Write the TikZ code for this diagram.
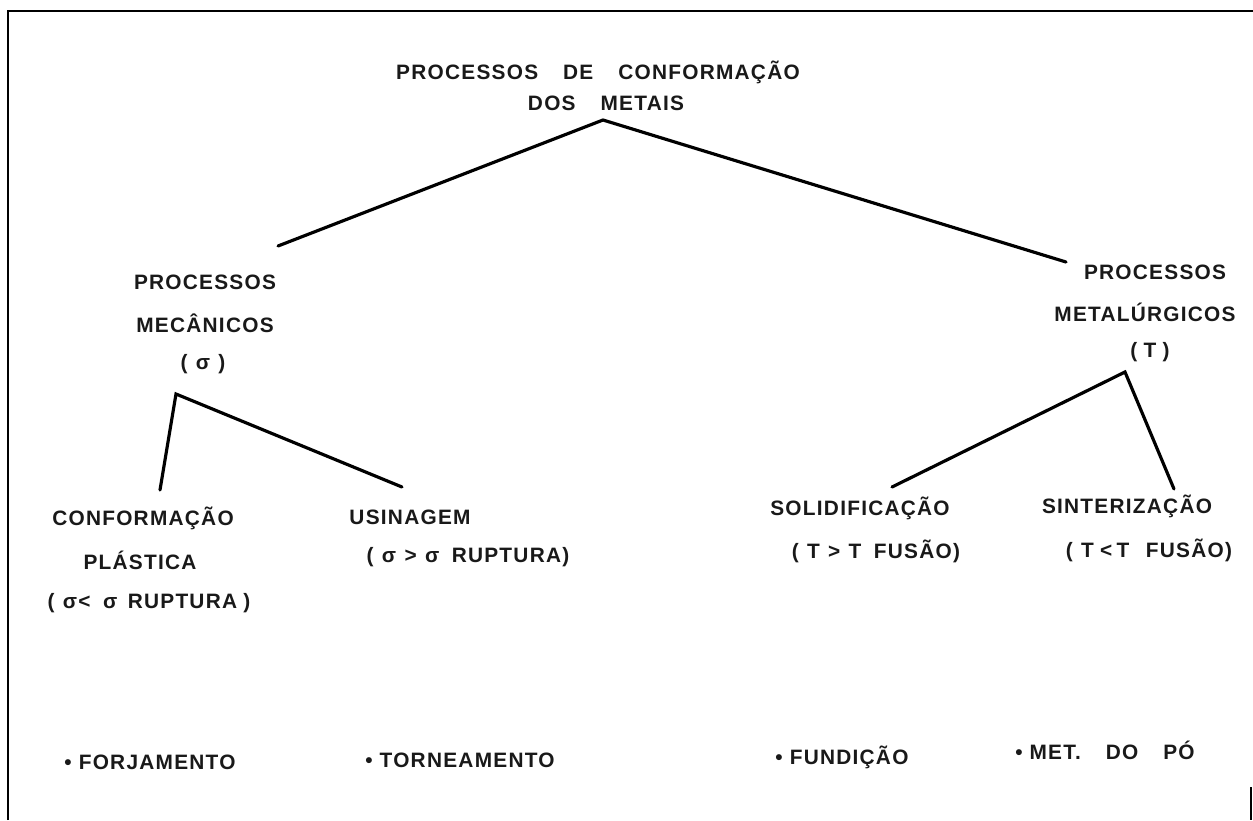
\documentclass[tikz,border=0pt]{standalone}
\usepackage{fontspec}
\newfontfamily\lf{Liberation Sans}[LetterSpace=6.0]
\begin{document}
\begin{tikzpicture}[x=0.6pt,y=-0.6pt,
  lab/.style={font=\lf\bfseries\fontsize{12.5}{15}\selectfont, text=black!90, inner sep=0pt, anchor=center},
  branch/.style={line width=1.9pt, line cap=round},
  frame/.style={line width=1.1pt}]
\useasboundingbox (0,0) rectangle (1253,820);
% frame
\coordinate (f1) at (8,820);
\coordinate (f2) at (8,11);
\coordinate (f3) at (1253,11);
\coordinate (f4) at (1251,787);
\coordinate (f5) at (1251,820);
\draw[frame] (f1) -- (f2) -- (f3);
\draw[frame] (f4) -- (f5);
% texts
\node[lab] (t1) at (598,72) {PROCESSOS\hspace{1.2em}DE\hspace{1.2em}CONFORMAÇÃO};
\node[lab] (t2) at (606,103) {DOS\hspace{1.2em}METAIS};
\node[lab] (m1) at (205,282) {PROCESSOS};
\node[lab] (m2) at (205,323) {MECÂNICOS};
\node[lab] (m3) at (203,364) {(\hspace{0.4em}σ\hspace{0.4em})};
\node[lab] (r1) at (1155,272) {PROCESSOS};
\node[lab] (r2) at (1145,312) {METALÚRGICOS};
\node[lab] (r3) at (1150,352) {(\hspace{0.3em}T\hspace{0.3em})};
\node[lab] (c1) at (143,518) {CONFORMAÇÃO};
\node[lab] (c2) at (140,560) {PLÁSTICA};
\node[lab] (c3) at (149,603) {(\hspace{0.4em}σ<\hspace{0.6em}σ\hspace{0.5em}RUPTURA\hspace{0.3em})};
\node[lab] (u1) at (410,517) {USINAGEM};
\node[lab] (u2) at (468,557) {(\hspace{0.4em}σ\hspace{0.4em}>\hspace{0.4em}σ\hspace{0.6em}RUPTURA)};
\node[lab] (s1) at (860,508) {SOLIDIFICAÇÃO};
\node[lab] (s2) at (876,551) {(\hspace{0.4em}T\hspace{0.4em}>\hspace{0.4em}T\hspace{0.6em}FUSÃO)};
\node[lab] (z1) at (1127,506) {SINTERIZAÇÃO};
\node[lab] (z2) at (1149,550) {(\hspace{0.4em}T\hspace{0.3em}<\hspace{0.2em}T\hspace{0.8em}FUSÃO)};
\node[lab] (e1) at (150,762) {• FORJAMENTO};
\node[lab] (e2) at (460,760) {• TORNEAMENTO};
\node[lab] (e3) at (842,757) {• FUNDIÇÃO};
\node[lab] (e4) at (1105,750) {• MET.\hspace{1.2em}DO\hspace{1.2em}PÓ};
% branch points
\coordinate (a0) at (603,120);
\coordinate (a1) at (278,246);
\coordinate (a2) at (1066,262);
\coordinate (b0) at (176,394);
\coordinate (b1) at (160,490);
\coordinate (b2) at (402,487);
\coordinate (d0) at (1125,372);
\coordinate (d1) at (892,487);
\coordinate (d2) at (1174,489);
\draw[branch] (a1) -- (a0) -- (a2);
\draw[branch] (b1) -- (b0) -- (b2);
\draw[branch] (d1) -- (d0) -- (d2);
\end{tikzpicture}
\end{document}
